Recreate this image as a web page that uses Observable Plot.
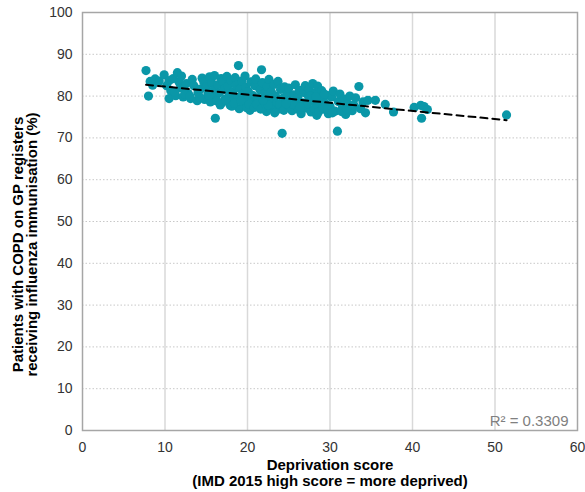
<!DOCTYPE html>
<html>
<head>
<meta charset="utf-8">
<script src="https://cdn.jsdelivr.net/npm/d3@7"></script>
<script src="https://cdn.jsdelivr.net/npm/@observablehq/plot@0.6"></script>
<style>
  html, body { margin: 0; padding: 0; background: #fff; }
  #chart { width: 585px; height: 492px; }
</style>
</head>
<body>
<div id="chart"></div>
<script>
// Deprivation score (IMD 2015) per practice
const depScore = [
  7.7, 8.0, 8.2, 8.5, 8.8, 9.3, 9.9, 10.2, 10.5, 10.7, 10.5, 11.0, 11.3, 11.5, 11.7, 11.9, 12.0, 12.3, 12.2,
  12.6, 12.8, 13.1, 13.3, 13.5, 13.9, 14.0, 14.3, 14.5, 14.7, 14.8, 15.0, 15.2, 15.4, 15.5, 15.7, 15.9, 16.0, 16.1, 16.2, 16.4, 16.6, 16.8, 16.9, 17.0,
  17.2, 17.3, 17.5, 17.6, 17.8, 17.9, 18.0, 18.2, 18.3, 18.5, 18.6, 18.8, 18.9, 19.0, 19.1, 19.3, 19.4, 19.6, 19.7, 19.8, 20.0, 20.1, 20.3, 20.4, 20.6, 20.7, 20.9, 21.0, 21.2, 21.3,
  21.5, 21.7, 21.8, 22.0, 22.1, 22.3, 22.4, 22.6, 22.7, 22.9, 23.0, 23.2, 23.4, 23.5, 23.7, 23.8, 24.0, 24.2, 24.3, 24.5, 24.6, 24.8, 25.0,
  25.2, 25.4, 25.6, 25.8, 26.0, 26.1, 26.3, 26.5, 26.7, 26.9, 27.0, 27.2, 27.4, 27.5, 27.7, 27.9, 28.0, 28.2, 28.4, 28.5, 28.7, 28.9, 29.0, 29.2, 29.4, 29.6, 29.8, 30.0,
  30.2, 30.4, 30.6, 30.9, 31.0, 31.2, 31.5, 31.7, 31.9, 32.2, 32.4, 32.7, 32.9, 33.1, 33.5, 33.7, 34.0, 34.3, 34.6,
  35.5, 36.7, 37.7, 40.2, 41.0, 41.4, 41.8, 41.1, 51.4,
  14.2, 15.3, 16.3, 16.7, 17.4, 18.1, 18.4, 19.2, 19.9, 20.2, 20.8, 21.1, 21.6, 22.2, 22.8, 23.3, 23.9, 24.4, 25.1, 25.5,
  26.2, 26.8, 27.3, 28.1, 28.6, 29.1, 29.7, 30.3, 31.4, 32.0, 12.4, 13.0, 11.2, 27.6, 28.3, 29.3, 26.4, 24.7, 22.5, 21.9
];
// % of COPD patients receiving influenza immunisation
const fluPct = [
  86.1, 80.0, 83.5, 82.6, 84.1, 83.6, 85.1, 82.5, 83.7, 81.3, 79.4, 84.2, 80.1, 85.6, 83.4, 82.0, 84.8, 81.7, 79.8,
  83.0, 80.6, 79.4, 84.0, 82.5, 78.9, 80.8, 81.7, 84.3, 83.4, 79.2, 82.2, 80.5, 84.6, 78.6, 83.1, 81.4, 84.9, 74.7, 79.9, 82.7, 80.8, 84.2, 78.4, 83.5,
  81.6, 79.3, 84.7, 82.4, 80.3, 77.8, 83.8, 81.0, 78.9, 84.4, 82.6, 79.7, 87.3, 77.0, 81.8, 83.6, 80.4, 78.2, 84.8, 82.1, 79.3, 81.1, 76.6, 83.4, 80.2, 78.5, 82.5, 84.1, 79.6, 77.4,
  81.5, 86.3, 83.2, 78.6, 80.7, 76.3, 82.3, 84.0, 79.2, 81.0, 77.5, 82.8, 80.0, 78.2, 83.5, 76.9, 81.6, 71.1, 79.5, 82.2, 77.8, 80.6, 81.9,
  78.9, 76.5, 80.3, 82.7, 77.7, 79.6, 81.4, 75.8, 78.4, 80.8, 82.5, 77.1, 79.9, 81.7, 76.2, 83.0, 78.8, 80.7, 75.4, 82.4, 77.6, 79.5, 81.3, 76.9, 78.3, 80.2, 75.8, 77.6,
  79.8, 81.2, 76.4, 71.6, 78.7, 80.5, 77.2, 79.3, 75.6, 78.1, 80.0, 76.5, 77.9, 79.6, 82.3, 77.0, 78.6, 76.0, 79.0,
  79.0, 78.0, 76.2, 77.3, 77.8, 77.5, 76.8, 74.7, 75.5,
  79.8, 80.2, 78.8, 77.9, 79.0, 77.6, 78.3, 78.9, 77.2, 78.0, 77.3, 78.1, 76.9, 78.0, 77.0, 76.0, 78.0, 76.6, 77.5, 78.0,
  76.8, 77.8, 78.2, 77.0, 76.2, 77.2, 76.8, 76.0, 76.3, 77.0, 80.5, 80.0, 81.0, 80.0, 79.8, 80.5, 77.3, 78.2, 77.9, 79.0
];
const xTicks = [0, 10, 20, 30, 40, 50, 60];
const yTicks = [0, 10, 20, 30, 40, 50, 60, 70, 80, 90, 100];
const rSquaredLabel = "R\u00b2 = 0.3309";
const xTitle = "Deprivation score\n(IMD 2015 high score = more deprived)";
const yTitle = "Patients with COPD on GP registers\nreceiving influenza immunisation (%)";

const data = depScore.map((d, i) => ({x: d, y: fluPct[i]}));

const chart = Plot.plot({
  width: 585,
  height: 492,
  marginTop: 12,
  marginRight: 8,
  marginBottom: 62,
  marginLeft: 82,
  style: {fontFamily: "'Liberation Sans', Arial, sans-serif", fontSize: "14px", background: "#fff", overflow: "visible"},
  x: {domain: [0, 60]},
  y: {domain: [0, 100]},
  marks: [
    Plot.gridX(xTicks.slice(1, -1), {stroke: "#d9d9d9", strokeOpacity: 1, strokeWidth: 1.5}),
    Plot.gridY(yTicks.slice(1, -1), {stroke: "#c8c8c8", strokeOpacity: 1, strokeDasharray: "1.5,2"}),
    Plot.frame({stroke: "#a6a6a6", strokeWidth: 1.5}),
    Plot.dot(data, {x: "x", y: "y", r: 4.6, fill: "#0a97a8", stroke: "none"}),
    Plot.linearRegressionY(data, {x: "x", y: "y", ci: 0, stroke: "#000", strokeWidth: 2, strokeDasharray: "7,5"}),
    Plot.axisX(xTicks, {tickSize: 0, tickPadding: 12, label: null, fill: "#333", fontSize: 14}),
    Plot.axisY(yTicks, {tickSize: 0, tickPadding: 10, label: null, fill: "#333", fontSize: 14}),
    Plot.text([rSquaredLabel], {frameAnchor: "bottom-right", dx: -9, dy: -5, fill: "#808080", fontSize: 15, textAnchor: "end", lineAnchor: "bottom"}),
    Plot.text([xTitle], {frameAnchor: "bottom", dy: 28, lineAnchor: "top", lineHeight: 1.07, fontWeight: "bold", fontSize: 15, fill: "#000"}),
    Plot.text([yTitle], {frameAnchor: "left", dx: -57, dy: 23, rotate: -90, textAnchor: "middle", lineHeight: 0.95, fontWeight: "bold", fontSize: 15, fill: "#000"})
  ]
});
document.getElementById("chart").appendChild(chart);
</script>
</body>
</html>
